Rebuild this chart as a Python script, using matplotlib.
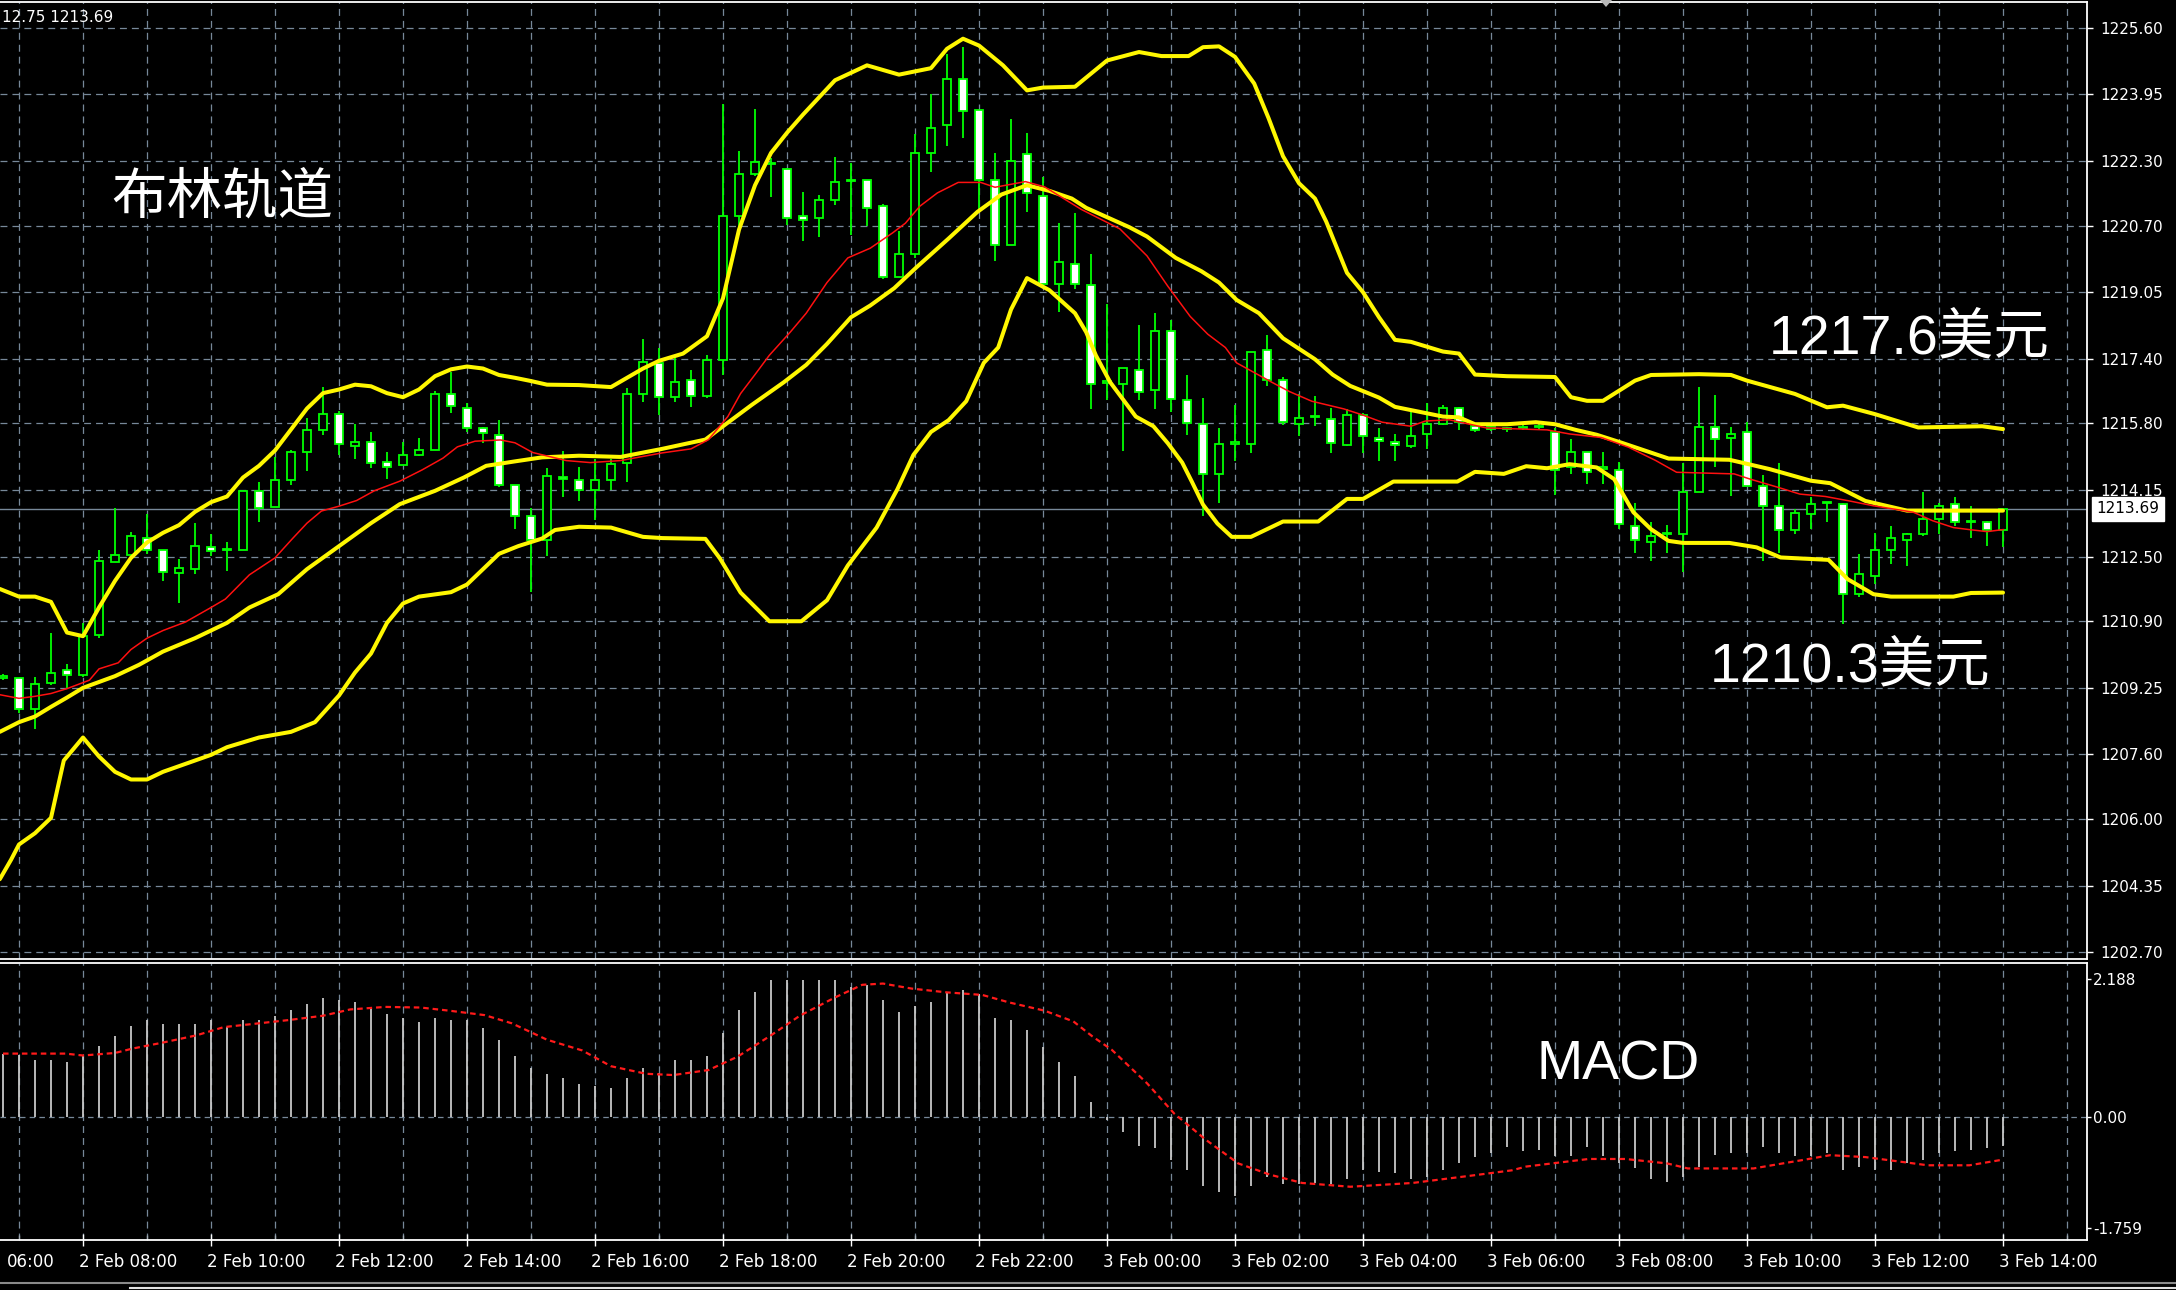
import matplotlib
matplotlib.use('Agg')
import matplotlib.pyplot as plt
import matplotlib.transforms as mtransforms
from matplotlib.patches import Polygon
from matplotlib.lines import Line2D
import numpy as np

plt.rcParams['font.family'] = ['DejaVu Sans', 'Noto Sans CJK SC']
plt.rcParams['lines.scale_dashes'] = False

# ---------------- data (15-minute candles, 2 Feb 06:45 -> 3 Feb 14:00) ----------------
opens = [1209.50,1209.49,1208.73,1209.37,1209.69,1209.56,1210.56,1212.36,1212.55,1212.97,
 1212.66,1212.09,1212.19,1212.75,1212.66,1212.66,1214.13,1213.73,1214.39,1215.08,
 1215.63,1216.03,1215.24,1215.34,1214.84,1214.78,1215.03,1215.13,1216.52,1216.17,
 1215.68,1215.52,1214.27,1213.50,1212.91,1214.47,1214.39,1214.15,1214.39,1214.83,
 1216.54,1217.30,1216.45,1216.87,1216.47,1217.37,1220.93,1221.99,1222.23,1222.11,
 1220.95,1220.90,1221.33,1221.80,1221.83,1221.18,1219.43,1220.00,1222.49,1223.18,
 1224.32,1223.57,1221.83,1220.21,1222.48,1221.44,1219.26,1219.75,1219.24,1216.80,
 1216.78,1217.13,1216.63,1218.10,1216.37,1215.78,1214.55,1215.30,1215.29,1217.63,
 1216.87,1215.78,1215.96,1215.92,1215.26,1216.00,1215.43,1215.34,1215.23,1215.54,
 1215.78,1216.18,1215.73,1215.67,1215.65,1215.68,1215.70,1215.59,1214.71,1215.08,
 1214.68,1214.64,1213.27,1212.87,1213.05,1213.06,1214.11,1215.70,1215.45,1215.59,
 1214.26,1213.76,1213.17,1213.55,1213.83,1213.80,1211.57,1212.02,1212.67,1212.92,
 1213.06,1213.43,1213.80,1213.36,1213.36,1213.17]
highs = [1209.60,1209.49,1209.51,1210.60,1209.84,1210.86,1212.66,1213.70,1213.12,1213.56,
 1212.66,1212.43,1213.33,1213.06,1212.87,1214.13,1214.35,1214.98,1215.15,1215.93,
 1216.69,1216.12,1215.79,1215.60,1215.10,1215.34,1215.44,1216.60,1217.07,1216.31,
 1215.71,1215.88,1214.27,1213.70,1214.69,1215.12,1214.72,1214.93,1214.93,1216.68,
 1217.89,1217.68,1217.41,1217.13,1217.49,1223.72,1222.54,1223.58,1222.37,1222.13,
 1221.54,1221.45,1222.39,1222.24,1221.83,1221.23,1220.57,1222.98,1223.96,1224.96,
 1225.12,1223.57,1222.50,1223.34,1222.99,1221.90,1220.77,1221.02,1220.00,1218.77,
 1217.18,1218.23,1218.53,1218.36,1216.99,1216.44,1215.69,1216.25,1217.58,1217.98,
 1216.94,1216.54,1216.49,1216.18,1216.16,1216.07,1215.69,1215.54,1216.11,1216.30,
 1216.26,1216.20,1215.78,1215.74,1215.72,1215.75,1215.78,1215.69,1215.41,1215.10,
 1215.10,1214.85,1213.83,1213.36,1213.28,1214.82,1216.69,1216.50,1215.70,1215.83,
 1214.52,1214.82,1213.68,1213.97,1213.86,1213.82,1212.56,1213.08,1213.26,1213.08,
 1214.11,1213.84,1213.97,1213.76,1213.38,1213.69]
lows = [1209.45,1208.63,1208.23,1209.32,1209.23,1209.53,1210.48,1212.36,1212.55,1212.57,
 1211.89,1211.34,1212.07,1212.52,1212.14,1212.66,1213.37,1213.73,1214.27,1214.61,
 1215.51,1215.03,1214.92,1214.70,1214.42,1214.78,1214.99,1215.13,1216.06,1215.60,
 1215.32,1214.23,1213.18,1211.62,1212.51,1213.98,1213.89,1213.41,1214.15,1214.34,
 1216.33,1216.02,1216.33,1216.21,1216.43,1217.01,1220.61,1221.94,1221.42,1220.71,
 1220.33,1220.43,1221.20,1220.47,1220.69,1219.38,1219.43,1219.90,1222.02,1222.68,
 1222.87,1221.11,1219.83,1220.21,1221.03,1219.21,1218.55,1219.13,1216.16,1216.37,
 1215.12,1216.37,1216.16,1216.08,1215.52,1213.51,1213.84,1214.88,1215.07,1216.73,
 1215.76,1215.50,1215.73,1215.07,1215.23,1215.07,1214.88,1214.88,1215.19,1215.17,
 1215.76,1215.64,1215.59,1215.62,1215.60,1215.63,1215.65,1214.03,1214.54,1214.30,
 1214.30,1213.18,1212.60,1212.40,1212.60,1212.11,1214.11,1214.73,1213.99,1214.24,
 1212.40,1212.60,1213.06,1213.18,1213.35,1210.83,1211.49,1211.82,1212.31,1212.26,
 1213.02,1213.06,1213.26,1212.95,1212.77,1212.75]
closes = [1209.55,1208.73,1209.35,1209.63,1209.58,1210.53,1212.38,1212.55,1213.01,1212.66,
 1212.11,1212.22,1212.76,1212.64,1212.67,1214.13,1213.70,1214.39,1215.08,1215.63,
 1216.03,1215.29,1215.34,1214.82,1214.73,1215.03,1215.13,1216.52,1216.22,1215.68,
 1215.57,1214.27,1213.50,1212.92,1214.49,1214.42,1214.15,1214.39,1214.79,1216.54,
 1217.32,1216.45,1216.82,1216.49,1217.37,1220.93,1221.99,1222.27,1222.25,1220.90,
 1220.85,1221.33,1221.77,1221.82,1221.14,1219.43,1220.00,1222.49,1223.11,1224.32,
 1223.53,1221.83,1220.21,1222.29,1221.50,1219.26,1219.81,1219.26,1216.78,1216.84,
 1217.18,1216.59,1218.10,1216.40,1215.80,1214.55,1215.29,1215.32,1217.58,1216.87,
 1215.83,1215.94,1215.98,1215.31,1216.00,1215.48,1215.36,1215.26,1215.48,1215.78,
 1216.18,1215.83,1215.64,1215.70,1215.67,1215.70,1215.72,1214.64,1215.08,1214.60,
 1214.72,1213.32,1212.92,1213.02,1213.07,1214.11,1215.70,1215.41,1215.54,1214.26,
 1213.76,1213.17,1213.58,1213.80,1213.85,1211.57,1212.07,1212.67,1212.96,1213.06,
 1213.43,1213.76,1213.36,1213.37,1213.17,1213.69]

# Bollinger style lines (bar index, price)
upper_idx = [-0.2,1,2,3,4,5,6,7,8,9,10,11,12,13,14,15,16,17,18,19,20,21,22,23,24,25,26,27,28,29,30,31,32,33,34,
 36,38,40,41,42.5,44,45,46,47,48,49,50,52,54,56,58,59,60,61,62.5,64,65,67,69,71,72.4,74.1,75,76,77,78.2,79.1,
 80,81,82,82.7,84,85,86,87,88,90,91,92,94,97,98,99,100,102,103,106,108,109,112,114,115,117,119.7,123.7,125]
upper_val = [1211.70,1211.51,1211.51,1211.38,1210.62,1210.53,1211.24,1211.90,1212.47,1212.85,1213.09,1213.28,
 1213.61,1213.85,1213.99,1214.46,1214.75,1215.13,1215.65,1216.17,1216.55,1216.64,1216.76,1216.72,1216.55,
 1216.45,1216.64,1216.97,1217.14,1217.21,1217.16,1217.00,1216.93,1216.85,1216.76,
 1216.75,1216.70,1217.16,1217.35,1217.53,1217.96,1218.90,1220.60,1221.70,1222.50,1223.00,1223.45,1224.30,
 1224.67,1224.44,1224.60,1225.08,1225.33,1225.16,1224.67,1224.05,1224.12,1224.14,1224.79,1225.00,1224.90,
 1224.90,1225.12,1225.14,1224.88,1224.22,1223.36,1222.42,1221.75,1221.37,1220.80,1219.53,1219.05,1218.43,
 1217.87,1217.82,1217.58,1217.53,1217.01,1216.97,1216.95,1216.45,1216.36,1216.36,1216.86,1217.00,1217.02,
 1217.00,1216.86,1216.53,1216.20,1216.24,1216.03,1215.70,1215.73,1215.66]

mid_idx = [-0.2,1,2,3,4,5,7,8.5,10,12,14,15.4,17.2,19,21,23,24.8,27,28.8,30.2,32,33.7,36,38.6,41.2,43.9,45,
 46.8,48.8,50.2,51.5,53,54.2,55.7,57.1,59.1,60.9,62.4,64,65.4,66.8,67.7,70.4,71.5,73.3,74.9,76,77.1,78.5,80,
 82,83.1,84.2,86,87,90,91,92,94,95.8,97,98.3,99.6,101.1,104.1,107.9,109.1,110.4,113,114.2,116.4,119,125]
mid_val = [1208.16,1208.40,1208.54,1208.78,1209.01,1209.25,1209.54,1209.82,1210.15,1210.48,1210.86,1211.24,
 1211.57,1212.19,1212.76,1213.33,1213.80,1214.13,1214.46,1214.75,1214.86,1214.96,1215.00,1214.97,1215.17,
 1215.40,1215.73,1216.26,1216.82,1217.25,1217.77,1218.43,1218.72,1219.15,1219.67,1220.38,1221.04,1221.47,
 1221.70,1221.56,1221.37,1221.14,1220.66,1220.43,1219.90,1219.57,1219.29,1218.86,1218.53,1217.91,1217.39,
 1217.01,1216.73,1216.44,1216.21,1215.97,1215.95,1215.78,1215.78,1215.83,1215.78,1215.64,1215.52,1215.33,
 1214.93,1214.90,1214.79,1214.67,1214.38,1214.32,1213.88,1213.64,1213.64]

lower_idx = [-0.2,0.5,1,2,3,3.8,5,6,7,8,9,10,12,13,14,16,18,19.5,21,22,23,24,25,26,28,29,30,31,32.2,33.7,
 34.5,36,38,40,41.2,43.9,44.8,46.1,47.9,49.9,51.5,52.8,54.6,55.9,56.9,58,59.1,60.2,61.3,62.2,63,64,65.4,67,
 67.7,68.3,69.2,70.8,71.9,72.8,73.7,74.3,75,75.9,76.8,78,80,82.2,84,85,86.9,90.9,92,93.8,95.2,96.5,97.9,
 99.6,100.7,101.9,103,104.1,105,107.9,109.6,111.1,114.1,115.3,116.9,118,121.9,123,125]
lower_val = [1204.51,1204.99,1205.37,1205.65,1206.03,1207.45,1208.02,1207.55,1207.17,1206.98,1206.98,1207.17,
 1207.45,1207.59,1207.78,1208.02,1208.16,1208.40,1209.06,1209.63,1210.10,1210.86,1211.34,1211.51,1211.62,
 1211.81,1212.19,1212.57,1212.76,1212.95,1213.16,1213.24,1213.22,1212.99,1212.96,1212.94,1212.46,1211.61,
 1210.90,1210.90,1211.42,1212.28,1213.22,1214.17,1215.02,1215.59,1215.88,1216.35,1217.30,1217.68,1218.62,
 1219.40,1219.10,1218.53,1218.06,1217.49,1216.82,1215.97,1215.73,1215.31,1214.83,1214.36,1213.79,1213.32,
 1212.99,1212.99,1213.37,1213.37,1213.93,1213.93,1214.36,1214.36,1214.60,1214.55,1214.74,1214.69,1214.79,
 1214.71,1214.42,1213.60,1213.18,1212.89,1212.84,1212.84,1212.73,1212.48,1212.42,1211.94,1211.57,1211.51,
 1211.51,1211.60,1211.61]

red_idx = [-0.2,1,2,3,4,5.4,6,7.2,8,9,10,11.4,13,13.9,15.4,17,18.1,19,19.9,21,22.1,23.2,24.8,26.2,27.5,28.4,
 29.5,31.1,32,33.1,35.2,36.7,38.6,41.2,43,44.1,45.3,46.1,47,47.9,49.2,50.2,51.5,52.8,54.2,55.6,56.4,57.3,
 58.4,59.7,61.1,62,63.9,65.1,67.4,69.8,71.5,72.8,74.2,75.3,76.4,77.1,78.2,79.3,80.4,81.8,83.8,84.9,86.2,88,
 88.9,90.4,92.7,96.5,97.9,99.9,101.6,103.3,104.6,108.2,109.2,111,112.3,113.9,115.4,116.9,119.4,120.6,121.9,
 122.9,124,125]
red_val = [1209.08,1208.99,1209.04,1209.11,1209.23,1209.44,1209.72,1209.87,1210.20,1210.48,1210.67,1210.88,
 1211.24,1211.45,1212.05,1212.47,1212.95,1213.33,1213.63,1213.75,1213.89,1214.13,1214.37,1214.65,1214.94,
 1215.22,1215.36,1215.39,1215.32,1215.08,1214.88,1214.83,1214.88,1215.07,1215.17,1215.40,1215.97,1216.54,
 1217.01,1217.49,1218.06,1218.53,1219.29,1219.90,1220.14,1220.52,1220.76,1221.18,1221.51,1221.77,1221.77,
 1221.65,1221.79,1221.66,1221.10,1220.62,1219.95,1219.20,1218.45,1218.01,1217.68,1217.30,1217.06,1216.82,
 1216.59,1216.35,1216.16,1216.02,1215.83,1215.73,1215.86,1215.89,1215.69,1215.64,1215.54,1215.45,1215.21,
 1214.88,1214.59,1214.55,1214.42,1214.21,1214.05,1213.99,1213.88,1213.76,1213.60,1213.39,1213.22,1213.17,
 1213.12,1213.17]

# MACD histogram per bar and signal line
macd_hist = [1.00,0.98,0.90,0.90,0.87,0.98,1.12,1.28,1.44,1.53,1.47,1.47,1.47,1.53,1.42,1.53,1.53,1.60,1.69,
 1.79,1.88,1.85,1.82,1.74,1.63,1.56,1.50,1.56,1.53,1.53,1.40,1.22,0.96,0.77,0.68,0.61,0.52,0.48,0.45,0.61,
 0.77,0.70,0.90,0.90,0.96,1.33,1.69,1.98,2.17,2.17,2.17,2.17,2.17,2.06,2.09,1.85,1.66,1.75,1.82,1.97,2.01,
 1.95,1.56,1.53,1.37,1.10,0.87,0.64,0.23,
 -0.05,-0.24,-0.46,-0.49,-0.69,-0.85,-1.10,-1.19,-1.26,-1.10,-0.96,-1.06,-1.06,-1.05,-1.06,-0.98,-0.85,
 -0.87,-0.90,-0.99,-0.95,-0.85,-0.74,-0.64,-0.58,-0.48,-0.55,-0.52,-0.62,-0.62,-0.48,-0.62,-0.73,-0.82,
 -0.99,-1.03,-0.95,-0.79,-0.61,-0.58,-0.58,-0.48,-0.58,-0.62,-0.63,-0.58,-0.85,-0.79,-0.85,-0.85,-0.74,
 -0.69,-0.58,-0.55,-0.53,-0.49,-0.46]
signal_idx = [0,3.9,5,7,8.1,9.9,12.1,13.8,16,17.8,20,21.7,23.9,26.1,27.9,30.1,31.8,34,36.2,38,40.2,41.9,44.1,
 45.9,48,49.8,52,53.7,55,56.8,59,61.2,62.9,65.1,66.9,68.1,69.3,71.5,73.2,75.2,77.2,79.2,81.2,84.2,88.1,92.2,
 94.3,95.2,99.1,101.4,104,105.3,109.4,112.4,114.2,116.4,118.5,120.3,122.9,125]
signal_val = [1.00,1.00,0.97,1.01,1.08,1.17,1.29,1.42,1.48,1.53,1.60,1.70,1.74,1.73,1.68,1.61,1.48,1.22,1.05,
 0.80,0.68,0.66,0.74,0.95,1.29,1.60,1.89,2.09,2.11,2.03,1.97,1.93,1.81,1.68,1.51,1.27,1.06,0.53,0.05,-0.37,
 -0.74,-0.92,-1.05,-1.11,-1.05,-0.92,-0.85,-0.79,-0.67,-0.67,-0.74,-0.82,-0.82,-0.69,-0.61,-0.64,-0.71,
 -0.77,-0.77,-0.68]

price_ticks = [1225.60,1223.95,1222.30,1220.70,1219.05,1217.40,1215.80,1214.15,1212.50,1210.90,1209.25,
 1207.60,1206.00,1204.35,1202.70]
price_labels = ["1225.60","1223.95","1222.30","1220.70","1219.05","1217.40","1215.80","1214.15","1212.50",
 "1210.90","1209.25","1207.60","1206.00","1204.35","1202.70"]
macd_ticks = [2.188, 0.0, -1.759]
macd_labels = ["2.188", "0.00", "-1.759"]
# first label is cut by the left edge in the original; only its visible part "06:00" shows
time_labels = ["06:00","2 Feb 08:00","2 Feb 10:00","2 Feb 12:00","2 Feb 14:00","2 Feb 16:00",
 "2 Feb 18:00","2 Feb 20:00","2 Feb 22:00","3 Feb 00:00","3 Feb 02:00","3 Feb 04:00","3 Feb 06:00",
 "3 Feb 08:00","3 Feb 10:00","3 Feb 12:00","3 Feb 14:00"]
first_label_bar = -3      # bar index of 2 Feb 06:00
bars_per_label = 8        # 2 hours of 15-minute bars
last_price = 1213.69
header_text = "12.75 1213.69"

# ---------------- layout ----------------
W, H, DPI = 2176, 1290, 100
fig = plt.figure(figsize=(W / DPI, H / DPI), dpi=DPI, facecolor='black')

PLOT_RIGHT = 2087
MAIN_TOP, MAIN_BOT = 2, 959
MACD_TOP, MACD_BOT = 963, 1240
BAR0_X, BAR_W = 3, 16
P_REF, P_REF_Y, P_SCALE = 1225.60, 27.8, 40.37
M_ZERO_Y, M_SCALE = 1116.7, 63.1

GREEN = '#00FF00'
YELLOW = '#FFF700'
GRID = '#778899'

ax = fig.add_axes([0, 1 - MAIN_BOT / H, PLOT_RIGHT / W, (MAIN_BOT - MAIN_TOP) / H])
axm = fig.add_axes([0, 1 - MACD_BOT / H, PLOT_RIGHT / W, (MACD_BOT - MACD_TOP) / H])
for a in (ax, axm):
    a.set_facecolor('black')
    a.set_xlim(-BAR0_X / BAR_W, (PLOT_RIGHT - BAR0_X) / BAR_W)
    a.spines['left'].set_visible(False)
    for s in ('right', 'top', 'bottom'):
        a.spines[s].set_color('white')
        a.spines[s].set_linewidth(1.3)
ax.set_ylim(P_REF - (MAIN_BOT - P_REF_Y) / P_SCALE, P_REF + (P_REF_Y - MAIN_TOP) / P_SCALE)
axm.set_ylim(-(MACD_BOT - M_ZERO_Y) / M_SCALE, (M_ZERO_Y - MACD_TOP) / M_SCALE)

n = len(opens)
idx = np.arange(n)
hour_lines = np.arange(1, 131, 4)

# grids
for v in price_ticks:
    ax.axhline(v, color=GRID, lw=0.9, dashes=(5.0, 3.6), zorder=0)
for a in (ax, axm):
    for x in hour_lines:
        a.axvline(x, color=GRID, lw=0.9, dashes=(5.0, 3.6), zorder=0)
axm.axhline(0, color=GRID, lw=0.9, dashes=(4.0, 3.0), zorder=0)
ax.axhline(last_price, color=GRID, lw=1.0, zorder=1)

# candles
o = np.array(opens); h = np.array(highs); l = np.array(lows); c = np.array(closes)
ax.vlines(idx, l, h, color=GREEN, lw=1.3, zorder=3)
bottoms = np.minimum(o, c)
heights = np.maximum(np.abs(c - o), 0.03)
faces = ['white' if cc < oo else 'black' for oo, cc in zip(o, c)]
ax.bar(idx, heights, bottom=bottoms, width=0.52, color=faces, edgecolor=GREEN, linewidth=1.3, zorder=4)

# indicator lines
for xs, ys in ((upper_idx, upper_val), (mid_idx, mid_val), (lower_idx, lower_val)):
    ax.plot(xs, ys, color=YELLOW, lw=2.9, solid_joinstyle='round', solid_capstyle='round', zorder=5)
ax.plot(red_idx, red_val, color='#FF1010', lw=1.1, zorder=6)

# MACD
axm.vlines(idx, 0, macd_hist, color='#C8C8C8', lw=1.3, zorder=3)
axm.plot(signal_idx, signal_val, color='#FF1A1A', lw=1.6, dashes=(4.0, 2.8), zorder=4)

# ticks / labels
ax.yaxis.tick_right()
ax.set_yticks(price_ticks)
ax.set_yticklabels(price_labels)
ax.tick_params(axis='y', colors='white', labelcolor='white', length=4.3, width=1, pad=5, labelsize=11,
               direction='out')
ax.tick_params(axis='x', bottom=False, labelbottom=False)

axm.yaxis.tick_right()
axm.set_yticks(macd_ticks)
axm.set_yticklabels(macd_labels)
axm.tick_params(axis='y', colors='white', labelcolor='white', length=3, width=1, pad=1.5, labelsize=11,
                direction='out')
label_bars = [first_label_bar + bars_per_label * k for k in range(len(time_labels))]
axm.set_xticks([b for b in label_bars if b >= 0])
axm.set_xticks(hour_lines, minor=True)
axm.tick_params(axis='x', which='major', direction='inout', length=8, width=1, colors='white',
                labelbottom=False)
axm.tick_params(axis='x', which='minor', direction='in', length=3.6, width=1, colors='#A0A8B0')

tr = mtransforms.blended_transform_factory(axm.transData, fig.transFigure)
min_x = (7 - BAR0_X) / BAR_W
for b, lab in zip(label_bars, time_labels):
    axm.text(max(b - 4 / BAR_W, min_x), 1 - 1262 / H, lab, transform=tr, ha='left', va='center',
             color='white', fontsize=12, clip_on=False)

# last price box
trp = mtransforms.blended_transform_factory(ax.transAxes, ax.transData)
ax.text(1.0045, last_price, f"{last_price:.2f}", transform=trp, ha='left', va='center', color='black',
        fontsize=11, clip_on=False, zorder=10,
        bbox=dict(boxstyle='square,pad=0.3', fc='white', ec='white'))

# header
fig.text(2 / W, 1 - 17 / H, header_text, color='white', fontsize=11, ha='left', va='center')

# annotations
ann_font = ['Liberation Sans', 'Noto Sans CJK SC']
fig.text(222 / W, 1 - 198 / H, "布林轨道", color='white', fontsize=40, ha='center', va='center',
         family=['Noto Sans CJK SC', 'DejaVu Sans'])
fig.text(1909 / W, 1 - 339 / H, "1217.6美元", color='white', fontsize=40, ha='center', va='center',
         family=ann_font)
fig.text(1850 / W, 1 - 667 / H, "1210.3美元", color='white', fontsize=40, ha='center', va='center',
         family=ann_font)
fig.text(1618 / W, 1 - 1065 / H, "MACD", color='white', fontsize=40, ha='center', va='center',
         family=ann_font)

# small decorations
tri = Polygon([(1600 / W, 1.0), (1612 / W, 1.0), (1606 / W, 1 - 7 / H)], closed=True,
              transform=fig.transFigure, facecolor='#B8B8B8', edgecolor='none')
fig.add_artist(tri)
fig.add_artist(Line2D([0, 1], [1 - 1283 / H] * 2, transform=fig.transFigure, color='#8A8A8A', lw=1.5))
fig.add_artist(Line2D([130 / W, 1], [1 - 1288 / H] * 2, transform=fig.transFigure, color='#E0E0E0', lw=1.5))

fig.savefig('out.png', dpi=DPI, facecolor='black')
